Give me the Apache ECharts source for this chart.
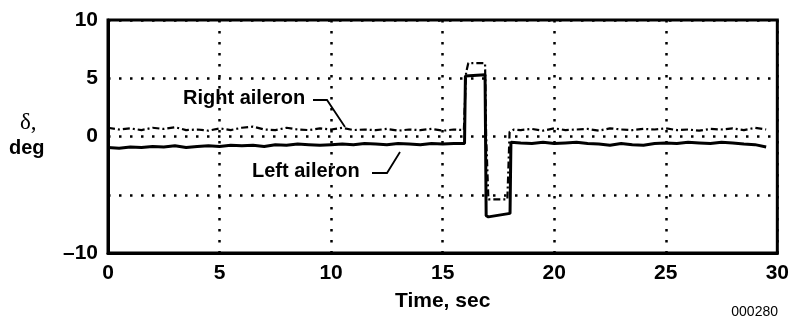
<!DOCTYPE html>
<html>
<head>
<meta charset="utf-8">
<script src="https://cdn.jsdelivr.net/npm/echarts@6/dist/echarts.min.js"></script>
<style>
html,body{margin:0;padding:0;background:#fff;}
#chart{width:792px;height:326px;}
</style>
</head>
<body>
<div id="chart"></div>
<script>
// Time (sec) and deflection (deg) samples
var rightTime = [0,0.5,1,1.5,2,2.5,3,3.5,4,4.5,5,5.5,6,6.5,7,7.5,8,8.5,9,9.5,10,10.5,11,11.5,12,12.5,13,13.5,14,14.5,15,15.5,15.95,
  16.05,16.15,16.9,16.95,17.05,17.9,18.0,18.2,
  18.5,19,19.5,20,20.5,21,21.5,22,22.5,23,23.5,24,24.5,25,25.5,26,26.5,27,27.5,28,28.5,29,29.5];
var rightAileron = [0.75,0.6,0.7,0.55,0.75,0.65,0.8,0.55,0.6,0.5,0.7,0.55,0.75,0.85,0.6,0.55,0.75,0.6,0.55,0.7,0.6,0.75,0.55,0.6,0.55,0.65,0.5,0.6,0.55,0.65,0.5,0.6,0.55,
  5.5,6.3,6.3,0.0,-5.4,-5.4,0.4,0.6,
  0.55,0.65,0.5,0.7,0.55,0.6,0.65,0.5,0.7,0.6,0.55,0.65,0.6,0.7,0.55,0.6,0.5,0.65,0.6,0.7,0.55,0.75,0.6];

var leftTime = [0,0.5,1,1.5,2,2.5,3,3.5,4,4.5,5,5.5,6,6.5,7,7.5,8,8.5,9,9.5,10,10.5,11,11.5,12,12.5,13,13.5,14,14.5,15,15.5,15.98,
  16.02,16.9,16.95,17.05,18.02,18.06,
  18.5,19,19.5,20,20.5,21,21.5,22,22.5,23,23.5,24,24.5,25,25.5,26,26.5,27,27.5,28,28.5,29,29.5];
var leftAileron = [-0.95,-1.0,-0.9,-0.95,-0.85,-0.9,-0.8,-0.95,-0.85,-0.8,-0.85,-0.75,-0.8,-0.75,-0.85,-0.7,-0.75,-0.65,-0.7,-0.75,-0.7,-0.65,-0.7,-0.6,-0.65,-0.7,-0.6,-0.65,-0.7,-0.6,-0.65,-0.6,-0.6,
  5.2,5.3,-6.8,-6.9,-6.6,-0.5,
  -0.55,-0.6,-0.5,-0.6,-0.55,-0.5,-0.6,-0.65,-0.75,-0.6,-0.7,-0.75,-0.6,-0.55,-0.6,-0.5,-0.55,-0.6,-0.5,-0.55,-0.65,-0.7,-0.9];

var xTicks = [0,5,10,15,20,25,30];
var yTickLabels = {'10':'10','5':'5','0':'0','-5':'','-10':'\u201310'};

function pairs(t, v){ return t.map(function(x,i){ return [x, v[i]]; }); }

var chart = echarts.init(document.getElementById('chart'), null, {renderer:'canvas'});
var bold = {fontFamily:'Liberation Sans, Arial, sans-serif', fontWeight:'bold', fontSize:21, color:'#000'};
var dotted = {color:'#000', width:2.5, type:[2.5,8.5]};

chart.setOption({
  animation:false,
  backgroundColor:'#fff',
  grid:{left:108, right:14, top:20, bottom:73, show:true, borderColor:'#000', borderWidth:3, backgroundColor:'transparent'},
  xAxis:{
    type:'value', min:xTicks[0], max:xTicks[xTicks.length-1], interval:5,
    name:'Time, sec', nameLocation:'middle', nameGap:38,
    nameTextStyle:bold,
    axisLine:{show:true, onZero:false, lineStyle:{color:'#000', width:3}},
    axisTick:{show:false},
    axisLabel:Object.assign({margin:10}, bold),
    splitLine:{show:true, lineStyle:dotted}
  },
  yAxis:{
    type:'value', min:-10, max:10, interval:5,
    axisLine:{show:true, onZero:false, lineStyle:{color:'#000', width:3}},
    axisTick:{show:false},
    axisLabel:Object.assign({margin:10, formatter:function(v){ return yTickLabels[String(v)]; }}, bold),
    splitLine:{show:true, lineStyle:dotted}
  },
  series:[
    {name:'Right aileron', type:'line', data:pairs(rightTime, rightAileron), showSymbol:false, z:3,
     lineStyle:{color:'#000', width:2.2, type:[7,3,2,3]}},
    {name:'Left aileron', type:'line', data:pairs(leftTime, leftAileron), showSymbol:false, z:4,
     lineStyle:{color:'#000', width:3}}
  ],
  graphic:[
    {type:'text', left:20, top:111, style:{text:'\u03b4,', font:'23px "Liberation Serif", serif', fill:'#000'}},
    {type:'text', left:9, top:138, style:{text:'deg', font:'bold 20px "Liberation Sans", Arial, sans-serif', fill:'#000'}},
    {type:'text', left:183, top:88, style:{text:'Right aileron', font:'bold 20px "Liberation Sans", Arial, sans-serif', fill:'#000'}},
    {type:'polyline', shape:{points:[[313,100],[327,100],[345,127]]}, style:{stroke:'#000', lineWidth:1.8, fill:null}},
    {type:'text', left:252, top:161, style:{text:'Left aileron', font:'bold 20px "Liberation Sans", Arial, sans-serif', fill:'#000'}},
    {type:'polyline', shape:{points:[[372,173],[387,173],[400,152]]}, style:{stroke:'#000', lineWidth:1.8, fill:null}},
    {type:'text', right:14, top:305, style:{text:'000280', font:'14px "Liberation Sans", Arial, sans-serif', fill:'#000'}}
  ]
});
</script>
</body>
</html>
